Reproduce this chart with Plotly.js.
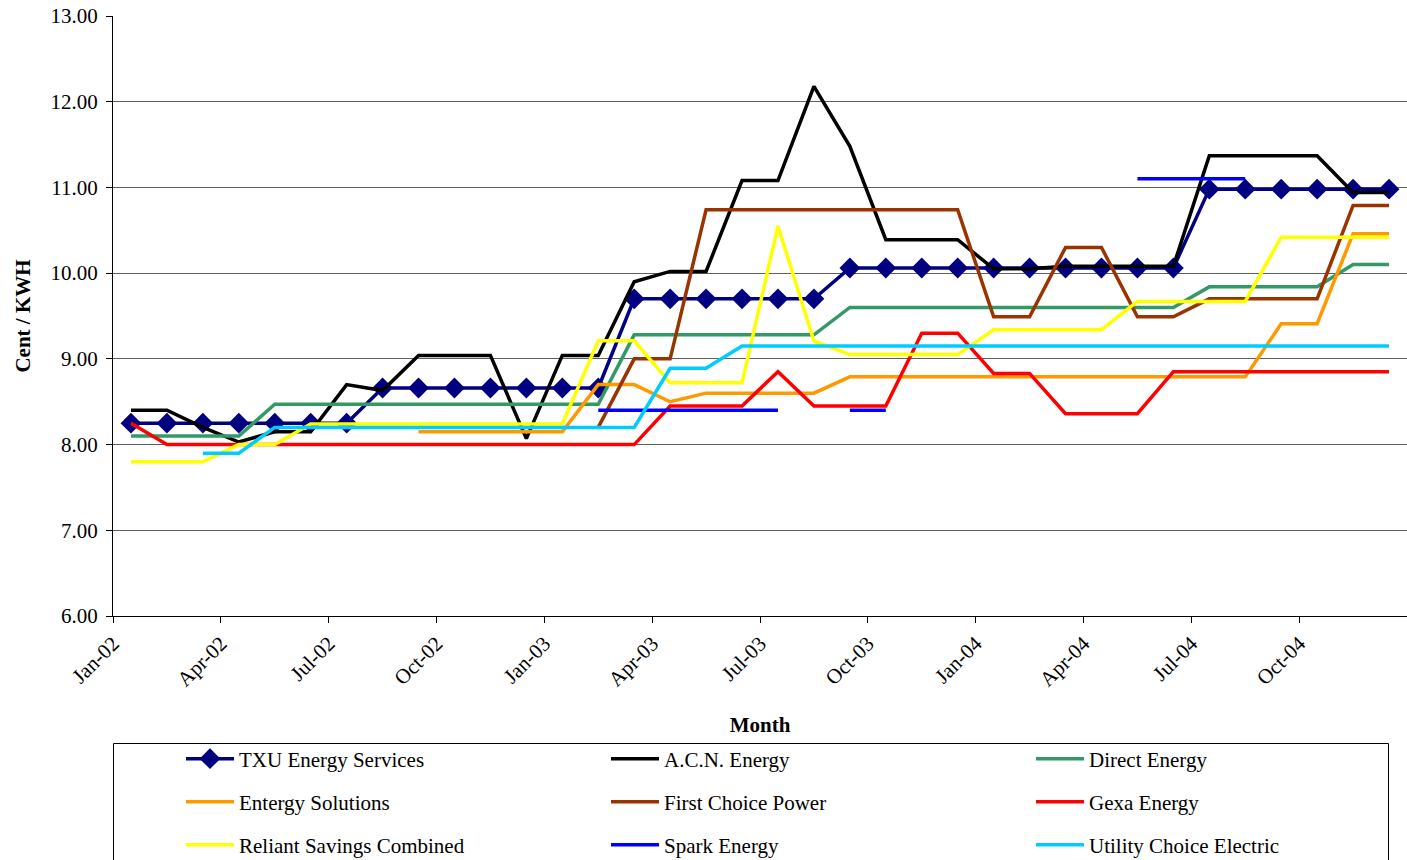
<!DOCTYPE html>
<html>
<head>
<meta charset="utf-8">
<script src="https://cdn.plot.ly/plotly-3.0.1.min.js"></script>
<style>html,body{margin:0;padding:0;background:#fff;}#chart{width:1407px;height:860px;}</style>
</head>
<body>
<div id="chart"></div>
<script>
const months = ["Jan-02","Feb-02","Mar-02","Apr-02","May-02","Jun-02","Jul-02","Aug-02","Sep-02","Oct-02","Nov-02","Dec-02",
"Jan-03","Feb-03","Mar-03","Apr-03","May-03","Jun-03","Jul-03","Aug-03","Sep-03","Oct-03","Nov-03","Dec-03",
"Jan-04","Feb-04","Mar-04","Apr-04","May-04","Jun-04","Jul-04","Aug-04","Sep-04","Oct-04","Nov-04","Dec-04"];
const tickLabels = ["Jan-02","Apr-02","Jul-02","Oct-02","Jan-03","Apr-03","Jul-03","Oct-03","Jan-04","Apr-04","Jul-04","Oct-04"];

const txu = [8.25,8.25,8.25,8.25,8.25,8.25,8.25,8.66,8.66,8.66,8.66,8.66,8.66,8.66,9.70,9.70,9.70,9.70,9.70,9.70,
10.06,10.06,10.06,10.06,10.06,10.06,10.06,10.06,10.06,10.06,10.98,10.98,10.98,10.98,10.98,10.98];
const acn = [8.40,8.40,8.20,8.03,8.15,8.15,8.70,8.63,9.04,9.04,9.04,8.07,9.04,9.04,9.90,10.02,10.02,11.08,11.08,12.18,
11.48,10.39,10.39,10.39,10.05,10.05,10.08,10.08,10.08,10.08,11.37,11.37,11.37,11.37,10.94,10.94];
const direct = [8.10,8.10,8.10,8.10,8.47,8.47,8.47,8.47,8.47,8.47,8.47,8.47,8.47,8.47,9.28,9.28,9.28,9.28,9.28,9.28,
9.60,9.60,9.60,9.60,9.60,9.60,9.60,9.60,9.60,9.60,9.84,9.84,9.84,9.84,10.10,10.10];
const entergy = [null,null,null,null,null,null,null,null,8.15,8.15,8.15,8.15,8.15,8.70,8.70,8.50,8.60,8.60,8.60,8.60,
8.79,8.79,8.79,8.79,8.79,8.79,8.79,8.79,8.79,8.79,8.79,8.79,9.41,9.41,10.46,10.46];
const firstChoice = [null,null,null,null,null,null,null,null,null,null,null,null,null,8.20,9.00,9.00,10.74,10.74,10.74,10.74,
10.74,10.74,10.74,10.74,9.49,9.49,10.30,10.30,9.49,9.49,9.70,9.70,9.70,9.70,10.79,10.79];
const gexa = [8.25,8.00,8.00,8.00,8.00,8.00,8.00,8.00,8.00,8.00,8.00,8.00,8.00,8.00,8.00,8.45,8.45,8.45,8.85,8.45,
8.45,8.45,9.30,9.30,8.83,8.83,8.36,8.36,8.36,8.85,8.85,8.85,8.85,8.85,8.85,8.85];
const reliant = [7.80,7.80,7.80,8.00,8.00,8.24,8.24,8.24,8.24,8.24,8.24,8.24,8.24,9.21,9.21,8.72,8.72,8.72,10.55,9.21,
9.05,9.05,9.05,9.05,9.34,9.34,9.34,9.34,9.67,9.67,9.67,9.67,10.42,10.42,10.42,10.42];
const spark = [null,null,null,null,null,null,null,null,null,null,null,null,null,8.40,8.40,8.40,8.40,8.40,8.40,null,
8.40,8.40,null,null,null,null,null,null,11.10,11.10,11.10,11.10,null,null,null,null];
const utility = [null,null,7.90,7.90,8.20,8.20,8.20,8.20,8.20,8.20,8.20,8.20,8.20,8.20,8.20,8.89,8.89,9.15,9.15,9.15,
9.15,9.15,9.15,9.15,9.15,9.15,9.15,9.15,9.15,9.15,9.15,9.15,9.15,9.15,9.15,9.15];

const xIdx = months.map((m, i) => i);
const tickVals = tickLabels.map(l => months.indexOf(l) - 0.5);

const FONT = "Liberation Serif, Times New Roman, serif";
const FS = 21;

const legendIds = ["legend","legend2","legend3","legend4","legend5","legend6","legend7","legend8","legend9"];

function line(k, name, y, color, extra) {
  return Object.assign({
    type: "scatter", mode: "lines", name: name, x: xIdx, y: y,
    text: months, hovertemplate: "%{text}: %{y:.2f}<extra>" + name + "</extra>",
    line: {color: color, width: 3.5}, legend: legendIds[k], connectgaps: false
  }, extra || {});
}

const traces = [
  line(0, "TXU Energy Services", txu, "#000080", {mode: "lines+markers", marker: {symbol: "diamond", size: 16, color: "#000080"}}),
  line(1, "A.C.N. Energy", acn, "#000000"),
  line(2, "Direct Energy", direct, "#339966"),
  line(3, "Entergy Solutions", entergy, "#FF9900"),
  line(4, "First Choice Power", firstChoice, "#993300"),
  line(5, "Gexa Energy", gexa, "#FF0000"),
  line(6, "Reliant Savings Combined", reliant, "#FFFF00"),
  line(7, "Spark Energy", spark, "#0000FF"),
  line(8, "Utility Choice Electric", utility, "#00CCFF")
];

const plotTop = 16, plotBottom = 616, plotH = plotBottom - plotTop;
const plotLeft = 113, plotW = 1407 - 113;
function py(px) { return (plotBottom - px) / plotH; }
function pxX(px) { return (px - plotLeft) / plotW; }

const colStart = [187, 612, 1037];
const rowY = [759, 802, 845];

function legendAt(k) {
  return {
    orientation: "v", x: pxX(colStart[k % 3] - 6), xanchor: "left",
    y: py(rowY[Math.floor(k / 3)]), yanchor: "middle",
    font: {family: FONT, size: FS, color: "#000"},
    bgcolor: "rgba(0,0,0,0)", borderwidth: 0, itemwidth: 48
  };
}

const layout = {
  width: 1407, height: 860,
  margin: {l: 113, r: 0, t: 16, b: 244, pad: 0, autoexpand: false},
  paper_bgcolor: "#fff", plot_bgcolor: "#fff",
  font: {family: FONT, size: FS, color: "#000"},
  showlegend: true,
  xaxis: {
    range: [-0.5, 35.5], tickmode: "array", tickvals: tickVals, ticktext: tickLabels,
    tickangle: -45, ticks: "outside", ticklen: 6, tickcolor: "#000", tickwidth: 1,
    showline: true, linecolor: "#000", linewidth: 1, showgrid: false, zeroline: false,
    tickfont: {family: FONT, size: FS, color: "#000"},
    title: {text: "<b>Month</b>", font: {family: FONT, size: FS, color: "#000"}, standoff: 27}
  },
  yaxis: {
    range: [6, 13], dtick: 1, tick0: 6, tickformat: ".2f",
    ticks: "outside", ticklen: 6, tickcolor: "#000", tickwidth: 1,
    showline: true, linecolor: "#000", linewidth: 1, zeroline: false,
    showgrid: true, gridcolor: "#606060", gridwidth: 1,
    tickfont: {family: FONT, size: FS, color: "#000"}, ticklabelstandoff: 4,
    title: {text: "<b>Cent / KWH</b>", font: {family: FONT, size: FS, color: "#000"}, standoff: 14}
  },
  shapes: [{
    type: "rect", xref: "paper", yref: "paper",
    x0: pxX(113.5), x1: pxX(1388.5), y0: py(743.5), y1: py(880),
    line: {color: "#000", width: 1}, fillcolor: "rgba(0,0,0,0)", layer: "below"
  }]
};
legendIds.forEach((id, k) => { layout[id] = legendAt(k); });

Plotly.newPlot("chart", traces, layout, {displayModeBar: false});
</script>
</body>
</html>
